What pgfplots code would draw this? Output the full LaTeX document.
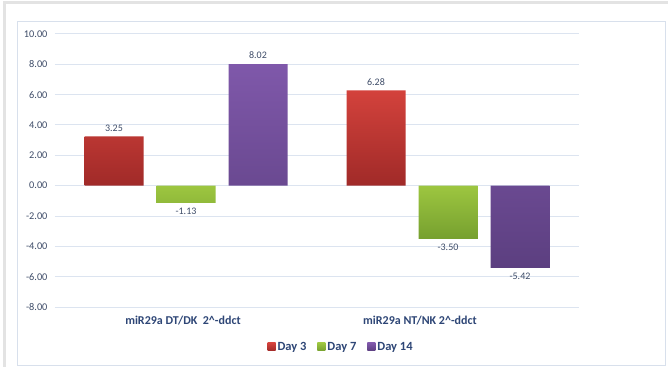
\documentclass[border=0pt]{standalone}
\usepackage{pgfplots}
\pgfplotsset{compat=1.18}
\usepackage{fontspec}
\setmainfont{Carlito}

\definecolor{txt}{HTML}{3E4C68}
\definecolor{cat}{HTML}{2E4676}
\definecolor{gridc}{HTML}{DCE4F0}
\definecolor{frame}{HTML}{D8E0EC}
\definecolor{outer}{HTML}{E3E3E3}
\definecolor{redT}{HTML}{D3423C}
\definecolor{redB}{HTML}{A02A28}
\definecolor{grnT}{HTML}{9DC640}
\definecolor{grnB}{HTML}{76A02F}
\definecolor{purT}{HTML}{7F58AA}
\definecolor{purB}{HTML}{5C3F80}

% fold change per marker, days 3 / 7 / 14
\pgfplotstableread{
x  d3    d7     d14
0  3.25  -1.13  8.02
1  6.28  -3.50  -5.42
}\foldchange

\begin{document}
\begin{tikzpicture}[x=1pt,y=1pt]
\useasboundingbox (0,0) rectangle (668,367);
\fill[white] (0,0) rectangle (668,367);
% sheet border and chart area
\draw[outer, line width=3pt] (4,0) -- (4,364) -- (668,364);
\draw[frame, line width=0.8pt] (17,2) rectangle (665,346);

\begin{axis}[
  at={(55pt,60pt)}, anchor=south west,
  width=524pt, height=273pt, scale only axis,
  xmin=-0.5, xmax=1.5,
  ymin=-8, ymax=10,
  ytick={-8,-6,...,10},
  axis line style={draw=none},
  tick style={draw=none},
  ymajorgrids,
  grid style={gridc, line width=1pt},
  /pgf/number format/assume math mode=true,
  yticklabel={\pgfmathprintnumber[fixed,fixed zerofill,precision=2]{\tick}},
  yticklabel style={font=\fontsize{10.3}{12}\selectfont, text=txt, xshift=-4pt},
  xtick={-0.0115,0.8931},
  xticklabels={miR29a DT/DK\ \ 2\^{}-ddct, miR29a NT/NK 2\^{}-ddct},
  xticklabel style={font=\fontsize{12}{14}\selectfont\bfseries, text=cat, yshift=-1pt},
  ybar=13pt, bar width=59pt,
  nodes near coords,
  nodes near coords align={vertical},
  every node near coord/.append style={font=\fontsize{10}{12}\selectfont, text=txt, inner ysep=5pt,
    /pgf/number format/.cd, fixed, fixed zerofill, precision=2, assume math mode=true},
  legend style={at={(0.546,-0.1465)}, anchor=center, draw=none, fill=none,
    font=\fontsize{12.5}{14}\selectfont\bfseries, text=cat,
    legend columns=3,
    /tikz/every even column/.append style={column sep=9pt}},
  legend image code/.code={\path[#1, draw=none] (0pt,-4pt) rectangle (8pt,4pt);},
]
\addplot[draw=none, top color=redT, bottom color=redB] table[x=x, y=d3] {\foldchange};
\addplot[draw=none, top color=grnT, bottom color=grnB] table[x=x, y=d7] {\foldchange};
\addplot[draw=none, top color=purT, bottom color=purB] table[x=x, y=d14] {\foldchange};
\legend{Day 3, Day 7, Day 14}
\end{axis}
\end{tikzpicture}
\end{document}
